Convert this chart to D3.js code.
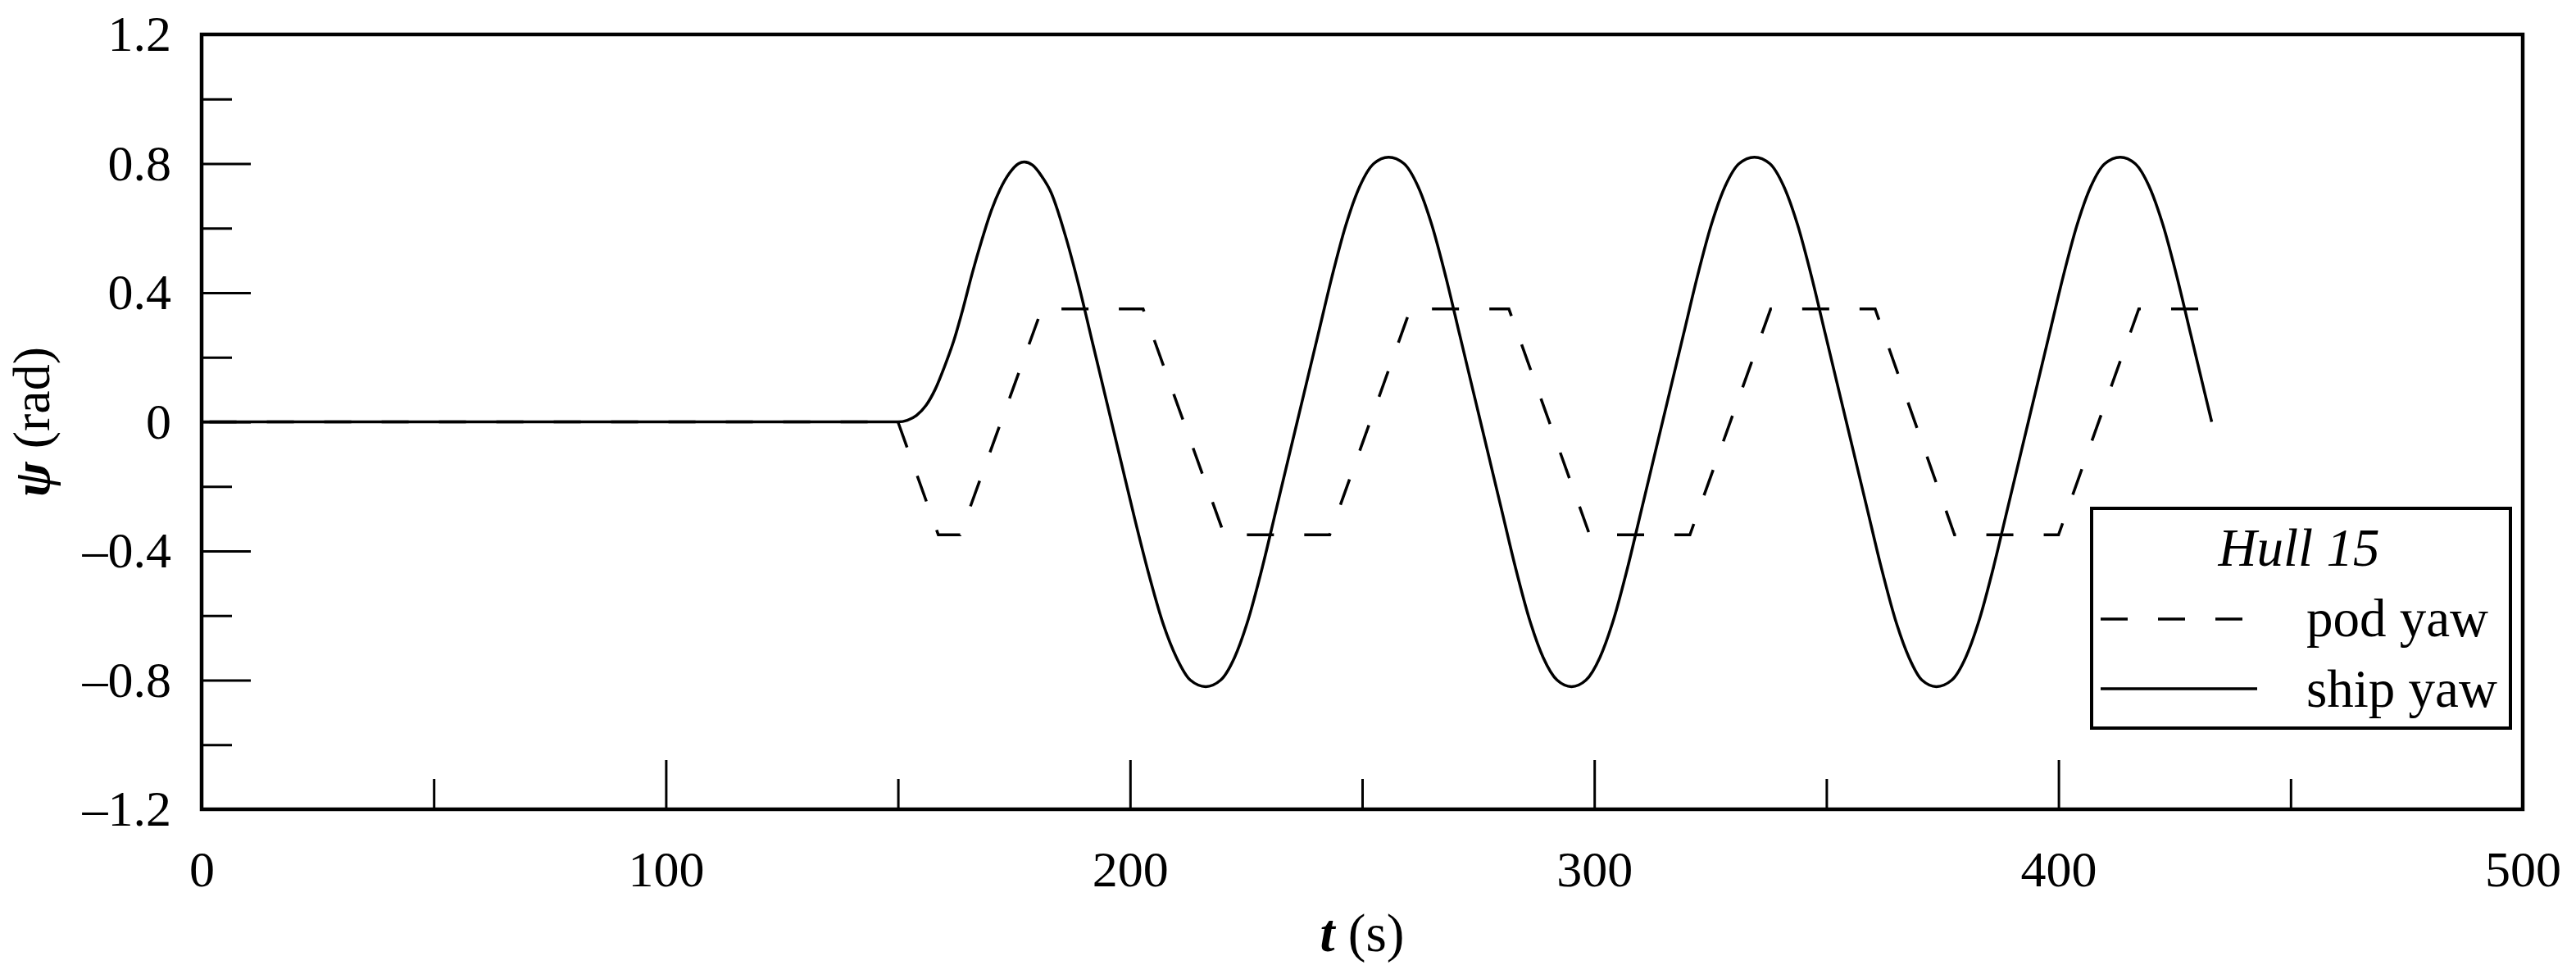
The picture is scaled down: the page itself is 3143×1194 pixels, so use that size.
<!DOCTYPE html>
<html>
<head>
<meta charset="utf-8">
<script src="https://cdn.jsdelivr.net/npm/d3@7"></script>
<style>
  body { margin: 0; background: #fff; }
  text { font-family: "Liberation Serif", "Times New Roman", serif; fill: #000; }
</style>
</head>
<body>
<div id="chart"></div>
<script>
var width  = 3143;
var height = 1194;
var margin = { left: 246, right: 65, top: 42, bottom: 207 };

// x axis (t, s)
var xMajorTicks = [0, 100, 200, 300, 400, 500];
var xMinorTicks = [50, 150, 250, 350, 450];
// y axis (psi, rad)
var yMajorTicks = [-1.2, -0.8, -0.4, 0, 0.4, 0.8, 1.2];
var yMinorTicks = [-1.0, -0.6, -0.2, 0.2, 0.6, 1.0];

// pod yaw
var podT   = [0, 150, 158.7, 163.4, 181, 202.8, 220.3, 243, 260.4, 281.6, 299, 320.6, 338, 360.5, 377.6, 400, 417.3, 433];
var podYaw = [0, 0, -0.35, -0.35, 0.35, 0.35, -0.35, -0.35, 0.35, 0.35, -0.35, -0.35, 0.35, 0.35, -0.35, -0.35, 0.35, 0.35];

// ship yaw
var shipT = [0, 150, 152, 154, 156, 158, 160, 162, 164, 166, 168, 170, 172, 174, 176, 177.2,
  179, 181, 183, 186, 189, 192, 195, 198, 201, 204, 207, 210, 213, 216.3,
  219.5, 222.5, 225.5, 228.5, 231.5, 234.5, 237.5, 240.5, 243.5, 246.5, 249.5, 252.5, 255.7,
  259, 262, 265, 268, 271, 274, 277, 280, 283, 286, 289, 292, 295.1,
  298.2, 301.2, 304.2, 307.2, 310.2, 313.2, 316.2, 319.2, 322.2, 325.2, 328.2, 331.2, 334.5,
  337.8, 340.8, 343.8, 346.8, 349.8, 352.8, 355.8, 358.8, 361.8, 364.8, 367.8, 370.6, 373.7,
  377, 380, 383, 386, 389, 392, 395, 398, 401, 404, 407, 410, 413.3,
  416.5, 419.5, 422.5, 425.5, 428.5, 431.5, 433];
var shipYaw = [0, 0, 0.005, 0.02, 0.05, 0.10, 0.17, 0.25, 0.35, 0.46, 0.56, 0.65, 0.72, 0.77, 0.80, 0.805,
  0.795, 0.76, 0.71, 0.58, 0.42, 0.24, 0.06, -0.12, -0.30, -0.47, -0.62, -0.73, -0.80, -0.82,
  -0.80, -0.73, -0.61, -0.45, -0.27, -0.09, 0.09, 0.27, 0.45, 0.61, 0.73, 0.80, 0.82,
  0.80, 0.73, 0.61, 0.45, 0.27, 0.09, -0.09, -0.27, -0.45, -0.61, -0.73, -0.80, -0.82,
  -0.80, -0.73, -0.61, -0.45, -0.27, -0.09, 0.09, 0.27, 0.45, 0.61, 0.73, 0.80, 0.82,
  0.80, 0.73, 0.61, 0.45, 0.27, 0.09, -0.09, -0.27, -0.45, -0.61, -0.73, -0.80, -0.82,
  -0.80, -0.73, -0.61, -0.45, -0.27, -0.09, 0.09, 0.27, 0.45, 0.61, 0.73, 0.80, 0.82,
  0.80, 0.73, 0.61, 0.45, 0.27, 0.09, 0];

var legendTitle = "Hull 15";
var seriesNames = ["pod yaw", "ship yaw"];

var svg = d3.select('#chart')
  .append('svg')
  .attr('width', width)
  .attr('height', height);

var x = d3.scaleLinear()
          .domain([0, 500])
          .range([margin.left, width - margin.right]);
var y = d3.scaleLinear()
          .domain([-1.2, 1.2])
          .range([height - margin.bottom, margin.top]);

var fmt = function(d) { return d3.format('')(d).replace('-', '\u2013').replace('\u2212', '\u2013'); };

// minor ticks (inward, short)
svg.append('g')
   .attr('transform', 'translate(0,' + y(-1.2) + ')')
   .call(d3.axisBottom(x).tickValues(xMinorTicks).tickSize(-37).tickFormat(''));
svg.append('g')
   .attr('transform', 'translate(' + x(0) + ',0)')
   .call(d3.axisLeft(y).tickValues(yMinorTicks).tickSize(-37).tickFormat(''));

// major ticks with labels
svg.append('g')
   .attr('class', 'xaxis')
   .attr('transform', 'translate(0,' + y(-1.2) + ')')
   .call(d3.axisBottom(x).tickValues(xMajorTicks).tickSize(-60).tickPadding(50).tickFormat(fmt));
svg.append('g')
   .attr('class', 'yaxis')
   .attr('transform', 'translate(' + x(0) + ',0)')
   .call(d3.axisLeft(y).tickValues(yMajorTicks).tickSize(-60).tickPadding(37).tickFormat(fmt));

svg.selectAll('.domain').remove();
svg.selectAll('.tick line').attr('stroke', '#000').attr('stroke-width', 3);
svg.selectAll('.tick text')
   .style('font-family', '"Liberation Serif", "Times New Roman", serif')
   .style('font-size', '62px')
   .attr('fill', '#000');

// frame
svg.append('rect')
   .attr('x', x(0))
   .attr('y', y(1.2))
   .attr('width', x(500) - x(0))
   .attr('height', y(-1.2) - y(1.2))
   .attr('fill', 'none')
   .attr('stroke', '#000')
   .attr('stroke-width', 4.5);

var line = d3.line()
             .x(function(d) { return x(d[0]); })
             .y(function(d) { return y(d[1]); });

// smooth curve for the ship response
var smooth = d3.line()
               .curve(d3.curveMonotoneX)
               .x(function(d) { return x(d[0]); })
               .y(function(d) { return y(d[1]); });

var podData  = d3.zip(podT, podYaw);
var shipData = d3.zip(shipT, shipYaw);

// dashes so that one starts where the pod leaves zero
var dashPeriod = 70;
var dashOffset = (dashPeriod - (x(150) - x(0)) % dashPeriod) % dashPeriod;

svg.append('path')
   .datum(podData)
   .attr('d', line)
   .attr('fill', 'none')
   .attr('stroke', '#000')
   .attr('stroke-width', 3.5)
   .attr('stroke-dasharray', '33,37')
   .attr('stroke-dashoffset', dashOffset);

svg.append('path')
   .datum(shipData)
   .attr('d', smooth)
   .attr('fill', 'none')
   .attr('stroke', '#000')
   .attr('stroke-width', 3.5)
   .attr('stroke-linejoin', 'round');

// axis titles
var xt = svg.append('text')
   .attr('x', (x(0) + x(500)) / 2)
   .attr('y', 1160)
   .attr('text-anchor', 'middle')
   .style('font-size', '65px');
xt.append('tspan').style('font-weight', 'bold').style('font-style', 'italic').text('t');
xt.append('tspan').text(' (s)');

var yt = svg.append('text')
   .attr('transform', 'translate(60,' + y(0) + ')rotate(-90)')
   .attr('text-anchor', 'middle')
   .style('font-size', '64px');
yt.append('tspan').style('font-weight', 'bold').style('font-style', 'italic').text('\u03C8');
yt.append('tspan').text(' (rad)');

// legend
var lg = svg.append('g');
lg.append('rect')
  .attr('x', 2552).attr('y', 620)
  .attr('width', 511).attr('height', 268)
  .attr('fill', '#fff')
  .attr('stroke', '#000')
  .attr('stroke-width', 4);
lg.append('text')
  .attr('x', 2805).attr('y', 690)
  .attr('text-anchor', 'middle')
  .style('font-style', 'italic')
  .style('font-size', '65px')
  .text(legendTitle);
lg.append('line')
  .attr('x1', 2563).attr('x2', 2739).attr('y1', 755).attr('y2', 755)
  .attr('stroke', '#000').attr('stroke-width', 3.5)
  .attr('stroke-dasharray', '33,37');
lg.append('line')
  .attr('x1', 2563).attr('x2', 2754).attr('y1', 840).attr('y2', 840)
  .attr('stroke', '#000').attr('stroke-width', 3.5);
lg.selectAll('.lab')
  .data(seriesNames)
  .enter()
  .append('text')
  .attr('class', 'lab')
  .attr('x', 2814)
  .attr('y', function(d, i) { return 776 + i * 86; })
  .style('font-size', '65px')
  .text(function(d) { return d; });
</script>
</body>
</html>
